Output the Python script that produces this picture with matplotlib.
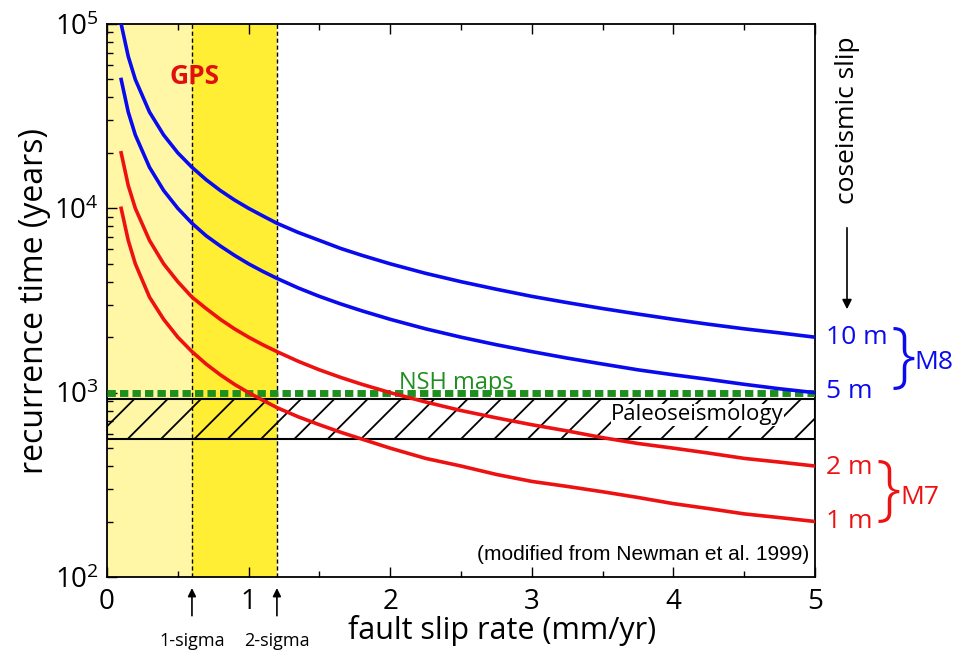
import matplotlib
matplotlib.use("Agg")
import matplotlib.pyplot as plt
from matplotlib.ticker import LogLocator, MultipleLocator, NullFormatter

plt.rcParams['font.family'] = ['Open Sans', 'DejaVu Sans']
plt.rcParams['mathtext.fontset'] = 'custom'
plt.rcParams['mathtext.rm'] = 'Open Sans'
plt.rcParams['mathtext.it'] = 'Open Sans'
plt.rcParams['hatch.linewidth'] = 1.3

# ---- data ----
slip_rate = [0.1, 0.15, 0.2, 0.3, 0.4, 0.5, 0.6, 0.7, 0.8, 0.9, 1.0, 1.1, 1.2, 1.35,
             1.5, 1.65, 1.8, 2.0, 2.25, 2.5, 2.75, 3.0, 3.25, 3.5, 3.75, 4.0,
             4.25, 4.5, 4.75, 5.0]
rec_10m = [100000, 66700, 50000, 33300, 25000, 20000, 16700, 14300, 12500, 11100,
           10000, 9100, 8300, 7400, 6700, 6060, 5560, 5000, 4440, 4000, 3640,
           3330, 3080, 2860, 2670, 2500, 2350, 2220, 2110, 2000]
rec_5m = [50000, 33300, 25000, 16700, 12500, 10000, 8300, 7100, 6250, 5560,
          5000, 4550, 4170, 3700, 3330, 3030, 2780, 2500, 2220, 2000, 1820,
          1670, 1540, 1430, 1330, 1250, 1180, 1110, 1050, 1000]
rec_2m = [20000, 13300, 10000, 6700, 5000, 4000, 3300, 2860, 2500, 2220,
          2000, 1820, 1670, 1480, 1330, 1210, 1110, 1000, 890, 800, 730,
          670, 620, 570, 530, 500, 470, 440, 420, 400]
rec_1m = [10000, 6700, 5000, 3300, 2500, 2000, 1670, 1430, 1250, 1110,
          1000, 910, 830, 740, 670, 610, 560, 500, 440, 400, 360,
          330, 310, 290, 270, 250, 235, 220, 210, 200]

gps_1sigma = 0.6
gps_2sigma = 1.2
nsh_level = 1000
paleo_low, paleo_high = 560, 920

fig = plt.figure(figsize=(9.75, 6.55), dpi=100)
ax = fig.add_axes([107/975, 1-577/655, (815-107)/975, (577-24)/655])

ax.set_xlim(0, 5)
ax.set_ylim(1e2, 1e5)
ax.set_yscale('log')

# GPS bands
ax.axvspan(0, gps_1sigma, color='#fff7a6', zorder=0, lw=0)
ax.axvspan(gps_1sigma, gps_2sigma, color='#ffee33', zorder=0, lw=0)
for xv in (gps_1sigma, gps_2sigma):
    ax.axvline(xv, color='black', lw=1.0, ls=(0, (3, 2)), zorder=1)

# Paleoseismology hatched band
ax.axhspan(paleo_low, paleo_high, facecolor='none', edgecolor='black',
           hatch='/', lw=1.5, zorder=2)

# NSH maps level
ax.axhline(nsh_level, color='#1f8f1f', lw=5, ls=(0, (1.2, 0.6)), zorder=3)

# curves
blue = '#0a0aee'
red = '#ee1111'
ax.plot(slip_rate, rec_10m, color=blue, lw=2.6, zorder=4)
ax.plot(slip_rate, rec_5m, color=blue, lw=2.6, zorder=4)
ax.plot(slip_rate, rec_2m, color=red, lw=2.6, zorder=4)
ax.plot(slip_rate, rec_1m, color=red, lw=2.6, zorder=4)

# texts inside
ax.text(0.62, 52000, 'GPS', color='#e01010', fontsize=19, fontweight='bold',
        ha='center', va='center', zorder=5)
ax.text(2.47, 1130, 'NSH maps', color='#1f8f1f', fontsize=17,
        ha='center', va='center', zorder=5)
ax.text(4.17, 760, 'Paleoseismology', color='black', fontsize=16,
        ha='center', va='center', zorder=5,
        bbox=dict(facecolor='white', edgecolor='none', pad=0.3))
ax.text(4.96, 133, '(modified from Newman et al. 1999)', fontsize=15,
        ha='right', va='center', family=['Liberation Sans', 'DejaVu Sans'], zorder=5)

# ticks
ax.xaxis.set_major_locator(MultipleLocator(1))
ax.xaxis.set_minor_locator(MultipleLocator(0.5))
ax.yaxis.set_major_locator(LogLocator(base=10, numticks=10))
ax.yaxis.set_minor_locator(LogLocator(base=10, subs=range(2, 10), numticks=10))
ax.yaxis.set_minor_formatter(NullFormatter())
ax.tick_params(axis='both', which='both', direction='in', top=True, right=False)
ax.tick_params(axis='both', which='major', length=7, width=1, labelsize=20)
ax.tick_params(axis='both', which='minor', length=4, width=1)
ax.tick_params(axis='x', pad=8)
ax.tick_params(axis='y', pad=6)
for s in ax.spines.values():
    s.set_linewidth(1.3)

ax.set_xlabel('fault slip rate (mm/yr)', fontsize=22, labelpad=0)
ax.xaxis.set_label_coords((502-107)/708, -0.068)
ax.set_ylabel('recurrence time (years)', fontsize=23, labelpad=2)

# sigma arrows & labels below the axis
for xv, lab in ((gps_1sigma, '1-sigma'), (gps_2sigma, '2-sigma')):
    ax.annotate('', xy=(xv, -0.015), xycoords=('data', 'axes fraction'),
                xytext=(xv, -0.075), textcoords=('data', 'axes fraction'),
                arrowprops=dict(arrowstyle='-|>', color='black', lw=1.2,
                                mutation_scale=12))
    ax.text(xv, -0.115, lab, transform=ax.get_xaxis_transform(), fontsize=13,
            ha='center', va='center')

# right-side annotations
def ft(px, py, s, **kw):
    fig.text(px/975, 1-py/655, s, **kw)

ft(847, 120, 'coseismic slip', rotation=90, fontsize=19, ha='center', va='center')
ax.annotate('', xy=(847/975, 1-312/655), xycoords='figure fraction',
            xytext=(847/975, 1-225/655), textcoords='figure fraction',
            arrowprops=dict(arrowstyle='-|>', color='black', lw=1.2,
                            mutation_scale=14))

ft(826, 338, '10 m', color=blue, fontsize=19, ha='left', va='center')
ft(826, 392, '5 m', color=blue, fontsize=19, ha='left', va='center')
ft(903, 360, '}', color=blue, fontsize=52, ha='center', va='center', fontweight='light')
ft(914, 362, 'M8', color=blue, fontsize=19, ha='left', va='center')

ft(826, 468, '2 m', color=red, fontsize=19, ha='left', va='center')
ft(826, 522, '1 m', color=red, fontsize=19, ha='left', va='center')
ft(888, 493, '}', color=red, fontsize=52, ha='center', va='center', fontweight='light')
ft(900, 497, 'M7', color=red, fontsize=19, ha='left', va='center')

fig.savefig('out.png', dpi=100)
